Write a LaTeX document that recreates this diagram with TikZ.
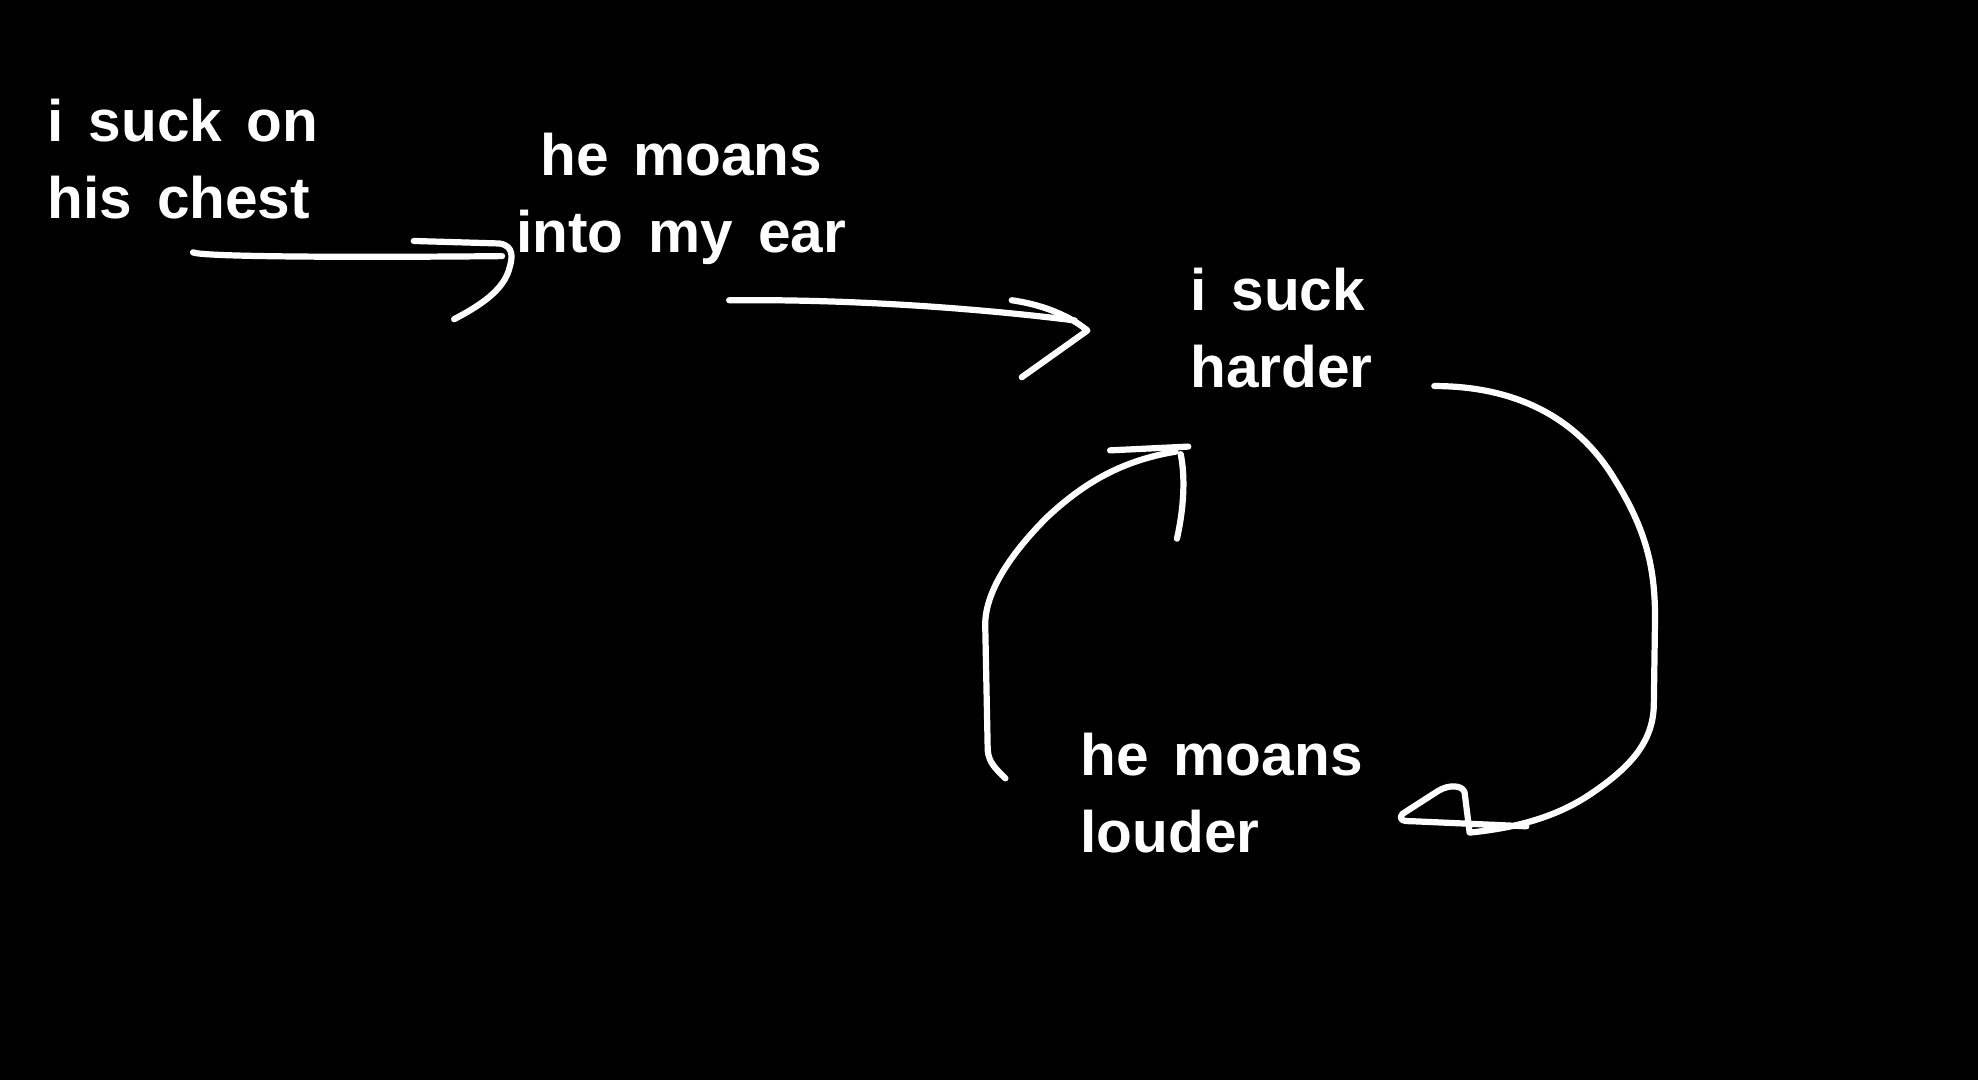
\documentclass[tikz,border=0pt]{standalone}
\usepackage{fontspec}
\setmainfont{Liberation Sans}
\newcommand{\mylblfont}{\bfseries\fontsize{13.2}{17.4}\selectfont\spaceskip=5.6pt plus 0pt minus 0pt }
\begin{document}
\begin{tikzpicture}[x=0.01cm,y=-0.01cm,
  lbl/.style={text=white,font=\mylblfont,inner sep=0pt},
  stroke/.style={draw=white,line width=1.4pt,line cap=round,line join=round}]
\fill[black] (0,0) rectangle (1568,856);
\useasboundingbox (0,0) rectangle (1568,856);
\node[lbl,align=left,anchor=base west] (t1) at (37,173) {i suck on\\his chest};
\node[lbl,align=center,anchor=base] (t2) at (540,200) {he moans\\into my ear};
\node[lbl,align=left,anchor=base west] (t3) at (943,307) {i suck\\harder};
\node[lbl,align=left,anchor=base west] (t4) at (856,676) {he moans\\louder};
% arrow 1
\coordinate (a1s) at (153,200);
\coordinate (a1e) at (398,203);
\draw[stroke] (a1s) .. controls (160,204) and (300,204) .. (a1e);
\draw[stroke] (328,191) -- (396,193) .. controls (408,195) and (406,205) .. (404,212) .. controls (400,228) and (385,240) .. (360,253);
% arrow 2
\coordinate (a2s) at (578,238);
\coordinate (a2e) at (852,254);
\draw[stroke] (a2s) .. controls (680,237) and (780,245) .. (a2e);
\draw[stroke] (802,238) .. controls (830,242) and (850,252) .. (862,262) -- (810,299);
% arrow 3
\coordinate (a3s) at (1137,306);
\coordinate (a3e) at (1210,655);
\draw[stroke] (a3s) .. controls (1200,306) and (1250,330) .. (1280,380) .. controls (1305,420) and (1312,450) .. (1312,490) -- (1311,560) .. controls (1310,590) and (1290,610) .. (1260,630) .. controls (1230,650) and (1195,657) .. (1165,660) -- (1161,628) .. controls (1159,622) and (1148,622) .. (1140,627) -- (1112,645) .. controls (1108,650) and (1112,651) .. (1120,651) -- (a3e);
% arrow 4
\coordinate (a4s) at (797,617);
\coordinate (a4e) at (932,358);
\draw[stroke] (a4s) .. controls (790,610) and (784,605) .. (783,595) -- (781,495) .. controls (781,470) and (800,440) .. (830,410) .. controls (860,382) and (890,365) .. (a4e);
\draw[stroke] (880,357) -- (942,354);
\draw[stroke] (936,360) .. controls (940,380) and (938,405) .. (933,427);
\end{tikzpicture}
\end{document}
